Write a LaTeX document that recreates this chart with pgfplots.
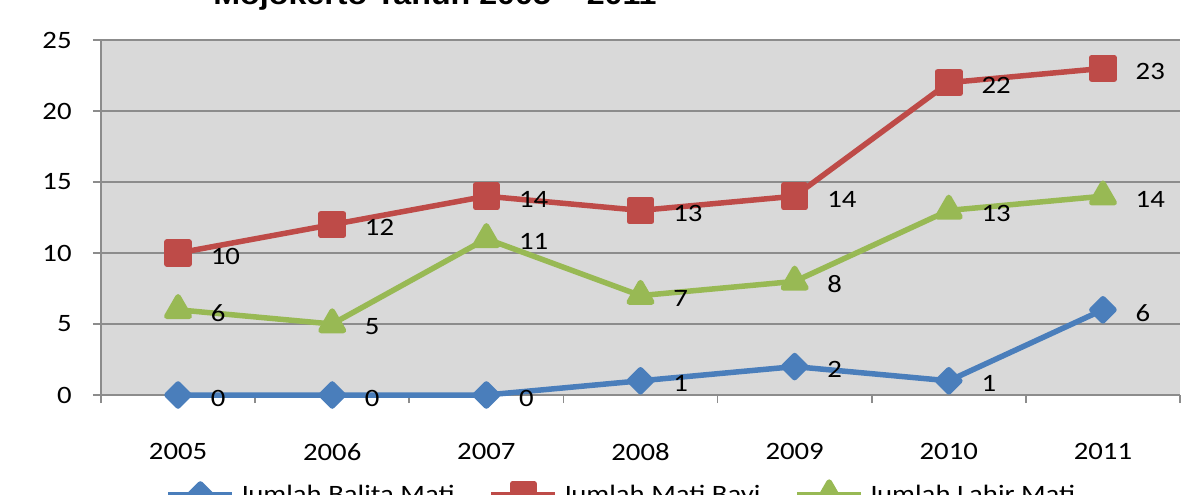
\documentclass[border=0pt]{standalone}
\usepackage{pgfplots}
\pgfplotsset{compat=1.18}
\usepackage{fontspec}
\setmainfont{Carlito}[FakeStretch=1.15]
\newfontfamily\titlefont{Liberation Sans}[FakeStretch=1.15]
\definecolor{cblue}{HTML}{4A7EBB}
\definecolor{cred}{HTML}{BE4B48}
\definecolor{cgreen}{HTML}{98B954}
\definecolor{bg}{HTML}{D9D9D9}
\definecolor{gridc}{HTML}{8C8C8C}
\newcommand\lab{\fontsize{12.5pt}{15pt}\selectfont}
\begin{document}
\begin{tikzpicture}
\useasboundingbox (-50.5pt,-49.5pt) rectangle (543.5pt,197.5pt);
\begin{scope}
\clip (-50.5pt,-49.5pt) rectangle (543.5pt,197.5pt);
\node[anchor=base west, inner sep=0pt, font=\titlefont\bfseries\fontsize{14pt}{16pt}\selectfont] at (56pt,195.5pt) {Mojokerto Tahun 2005 – 2011};
\begin{axis}[
  at={(0pt,0pt)}, anchor=south west,
  scale only axis, width=539.5pt, height=177.5pt,
  xmin=-0.5, xmax=6.5, ymin=0, ymax=25,
  xtick={0,...,6}, xticklabels={2005,2006,2007,2008,2009,2010,2011},
  minor xtick={-0.5,0.5,...,6.5},
  ytick={0,5,...,25},
  axis lines*=left,
  axis line style={draw=gridc, line width=0.8pt, -},
  tick align=outside, major tick length=4pt, minor tick length=4pt,
  major x tick style={draw=none},
  minor x tick style={draw=gridc, line width=0.8pt},
  y tick style={draw=gridc, line width=0.8pt},
  ymajorgrids, grid style={draw=gridc, line width=0.8pt},
  axis background/.style={fill=bg},
  clip=false,
  /pgf/number format/assume math mode=true,
  tick label style={font=\lab},
  yticklabel style={anchor=east, inner sep=0pt, xshift=-10.5pt},
  xticklabel style={anchor=north, inner sep=0pt, yshift=-20pt},
  nodes near coords,
  every node near coord/.append style={anchor=west, inner sep=0pt, xshift=15pt, yshift=-1.5pt, text=black, font=\lab},
  legend columns=3,
  legend style={at={(0.4833,-0.2817)}, anchor=center, draw=none, fill=none, font=\lab, inner sep=0pt,
    /tikz/every even column/.append style={column sep=15pt}},
  legend cell align=left,
  legend image code/.code={\draw[mark repeat=2,mark phase=2,#1] plot coordinates {(0pt,0pt)(16pt,0pt)(32pt,0pt)};},
]
\addplot[cblue, line width=2.75pt, line join=round, mark=square*, mark size=3.9pt, mark options={rotate=45, solid}]
  coordinates {(0,0)(1,0)(2,0)(3,1)(4,2)(5,1)(6,6)};
\addlegendentry{Jumlah Balita Mati}
\addplot[cred, line width=2.75pt, line join=round, mark=square*, mark size=5.5pt, mark options={solid}]
  coordinates {(0,10)(1,12)(2,14)(3,13)(4,14)(5,22)(6,23)};
\addlegendentry{Jumlah Mati Bayi}
\addplot[cgreen, line width=2.75pt, line join=round, mark=triangle*, mark size=6.5pt, mark options={solid}]
  coordinates {(0,6)(1,5)(2,11)(3,7)(4,8)(5,13)(6,14)};
\addlegendentry{Jumlah Lahir Mati}
\end{axis}
\end{scope}
\end{tikzpicture}
\end{document}
